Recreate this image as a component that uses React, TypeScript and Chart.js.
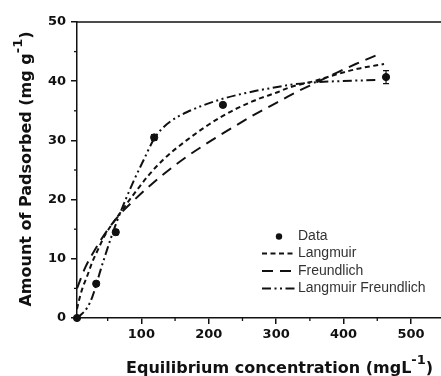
import React, { useEffect, useRef } from "react";
import { Chart, registerables } from "chart.js";

Chart.register(...registerables);

// Experimental data
const dataC = [4.5, 33, 62, 119, 221, 463];
const dataQ = [0, 5.8, 14.5, 30.5, 36.0, 40.7];
const dataErr = [0, 0.3, 0.4, 0.5, 0.3, 1.1];

// Langmuir fit
const langC = [4.5, 7.5, 12.5, 20, 27, 35, 42, 47, 67, 88, 110, 132, 167, 217, 267, 301, 321, 356, 391, 421, 460];
const langQ = [1.5, 3.0, 5.0, 7.2, 9.4, 11.4, 13.1, 14.2, 17.5, 20.8, 24.0, 26.7, 30.0, 33.9, 36.7, 38.1, 39.0, 40.0, 41.2, 42.1, 42.9];

// Freundlich fit
const freC = [4.5, 17, 32, 49.5, 68, 90, 113, 163, 217, 267, 301, 329, 356, 391, 418, 453];
const freQ = [5.0, 8.6, 11.7, 14.8, 17.5, 20.0, 22.4, 26.9, 30.9, 34.3, 36.4, 38.1, 39.6, 41.5, 42.9, 44.6];

// Langmuir-Freundlich fit
const lfC = [4.5, 10, 20, 27, 33, 40, 47, 54.5, 67, 88, 103, 119, 130, 143, 168, 217, 267, 306, 321, 356, 391, 451];
const lfQ = [0, 0.5, 1.8, 3.5, 5.6, 8.3, 10.8, 13.4, 17.3, 23.0, 26.6, 30.3, 31.9, 33.2, 34.8, 36.9, 38.3, 39.1, 39.4, 39.8, 40.0, 40.2];

const xMajorTicks = [100, 200, 300, 400, 500];
const xMinorTicks = [50, 150, 250, 350, 450];
const yMajorTicks = [0, 10, 20, 30, 40, 50];
const yMinorTicks = [5, 15, 25, 35, 45];

const legendLabels = ["Data", "Langmuir", "Freundlich", "Langmuir Freundlich"];

const LANG_DASH = [5, 3.5];
const FRE_DASH = [11, 7];
const LF_DASH = [9, 3.5, 2, 3.5, 2, 3.5];
const INK = "#111";

const pts = (xs: number[], ys: number[]) => xs.map((x, i) => ({ x, y: ys[i] }));

const extrasPlugin = {
  id: "extras",
  afterDatasetsDraw(chart: any) {
    const { ctx, chartArea, scales } = chart;
    const xs = scales.x;
    const ys = scales.y;
    ctx.save();
    ctx.strokeStyle = INK;
    ctx.lineWidth = 1.5;
    // top frame line
    ctx.beginPath();
    ctx.moveTo(chartArea.left, chartArea.top);
    ctx.lineTo(chartArea.right, chartArea.top);
    ctx.stroke();
    // minor ticks
    ctx.lineWidth = 1.3;
    xMinorTicks.forEach((v) => {
      const px = xs.getPixelForValue(v);
      ctx.beginPath();
      ctx.moveTo(px, chartArea.bottom);
      ctx.lineTo(px, chartArea.bottom + 3);
      ctx.stroke();
    });
    yMinorTicks.forEach((v) => {
      const py = ys.getPixelForValue(v);
      ctx.beginPath();
      ctx.moveTo(chartArea.left, py);
      ctx.lineTo(chartArea.left - 3, py);
      ctx.stroke();
    });
    // error bars
    ctx.lineWidth = 1.2;
    dataC.forEach((c, i) => {
      const e = dataErr[i];
      if (!e) return;
      const px = xs.getPixelForValue(c);
      const y1 = ys.getPixelForValue(dataQ[i] + e);
      const y2 = ys.getPixelForValue(dataQ[i] - e);
      ctx.beginPath();
      ctx.moveTo(px, y1);
      ctx.lineTo(px, y2);
      ctx.moveTo(px - 3, y1);
      ctx.lineTo(px + 3, y1);
      ctx.moveTo(px - 3, y2);
      ctx.lineTo(px + 3, y2);
      ctx.stroke();
    });
    // legend
    const lx0 = chartArea.left + 185;
    const lx1 = chartArea.left + 219;
    const tx = chartArea.left + 221;
    const rows = [236.5, 253.5, 271, 288.5].map((y) => y - 22 + chartArea.top);
    ctx.font = '14px "Liberation Sans", Arial, sans-serif';
    ctx.fillStyle = "#333";
    ctx.textBaseline = "middle";
    ctx.textAlign = "left";
    legendLabels.forEach((lab, i) => ctx.fillText(lab, tx, rows[i]));
    ctx.fillStyle = INK;
    ctx.beginPath();
    ctx.arc((lx0 + lx1) / 2, rows[0], 3.2, 0, Math.PI * 2);
    ctx.fill();
    ctx.lineWidth = 2;
    [LANG_DASH, FRE_DASH, LF_DASH].forEach((d, i) => {
      ctx.setLineDash(d);
      ctx.beginPath();
      ctx.moveTo(lx0, rows[i + 1]);
      ctx.lineTo(lx1, rows[i + 1]);
      ctx.stroke();
    });
    ctx.setLineDash([]);
    ctx.restore();
  },
};

export default function App() {
  const ref = useRef<HTMLCanvasElement | null>(null);
  useEffect(() => {
    if (!ref.current) return;
    const tickFont = { family: "'DejaVu Sans', sans-serif", weight: "bold" as const, size: 13 };
    const lineDs = (label: string, xs: number[], ys: number[], dash: number[]) => ({
      label,
      data: pts(xs, ys),
      showLine: true,
      borderColor: INK,
      borderWidth: 2,
      borderDash: dash,
      pointRadius: 0,
      fill: false,
      cubicInterpolationMode: "monotone" as const,
      clip: false as any,
    });
    const chart = new Chart(ref.current, {
      type: "scatter",
      data: {
        datasets: [
          {
            label: legendLabels[0],
            data: pts(dataC, dataQ),
            pointRadius: 3.6,
            pointBackgroundColor: INK,
            pointBorderColor: INK,
            showLine: false,
            clip: false as any,
          },
          lineDs(legendLabels[1], langC, langQ, LANG_DASH),
          lineDs(legendLabels[2], freC, freQ, FRE_DASH),
          lineDs(legendLabels[3], lfC, lfQ, LF_DASH),
        ],
      },
      options: {
        responsive: false,
        animation: false,
        layout: { padding: { top: 22, right: 26, left: 0, bottom: 0 } },
        plugins: { legend: { display: false }, tooltip: { enabled: false } },
        scales: {
          x: {
            type: "linear",
            min: 4.5,
            max: 549,
            afterBuildTicks: (s: any) => {
              s.ticks = xMajorTicks.map((v) => ({ value: v }));
            },
            afterFit: (s: any) => {
              s.height = 58;
            },
            grid: { display: true, drawOnChartArea: false, drawTicks: true, tickLength: 6, color: INK, lineWidth: 1.5 },
            border: { display: true, color: INK, width: 1.5 },
            ticks: { font: tickFont, color: INK, padding: 3, maxRotation: 0, autoSkip: false },
          },
          y: {
            type: "linear",
            min: 0,
            max: 50,
            afterBuildTicks: (s: any) => {
              s.ticks = yMajorTicks.map((v) => ({ value: v }));
            },
            afterFit: (s: any) => {
              s.width = 77;
            },
            grid: { display: true, drawOnChartArea: false, drawTicks: true, tickLength: 6, color: INK, lineWidth: 1.5 },
            border: { display: true, color: INK, width: 1.5 },
            ticks: { font: tickFont, color: INK, padding: 5, autoSkip: false },
          },
        },
      },
      plugins: [extrasPlugin],
    });
    return () => chart.destroy();
  }, []);

  const titleFont: React.CSSProperties = {
    fontFamily: "'DejaVu Sans', sans-serif",
    fontWeight: "bold",
    fontSize: 16,
    lineHeight: "20px",
    color: INK,
    whiteSpace: "nowrap",
    textAlign: "center",
    position: "absolute",
  };
  const sup: React.CSSProperties = { fontSize: 13, position: "relative", top: -9 };

  return (
    <div style={{ position: "fixed", left: 0, top: 0, width: 441, height: 376, overflow: "hidden", background: "#fff" }}>
      <canvas ref={ref} width={470} height={376} style={{ position: "absolute", left: 0, top: 0 }} />
      <div style={{ ...titleFont, left: 126, top: 358, width: 300, height: 20 }}>
        Equilibrium concentration (mgL<span style={sup}>-1</span>)
      </div>
      <div style={{ ...titleFont, left: 26 - 150, top: 169 - 10, width: 300, height: 20, transform: "rotate(-90deg)" }}>
        Amount of Padsorbed (mg g<span style={sup}>-1</span>)
      </div>
    </div>
  );
}
